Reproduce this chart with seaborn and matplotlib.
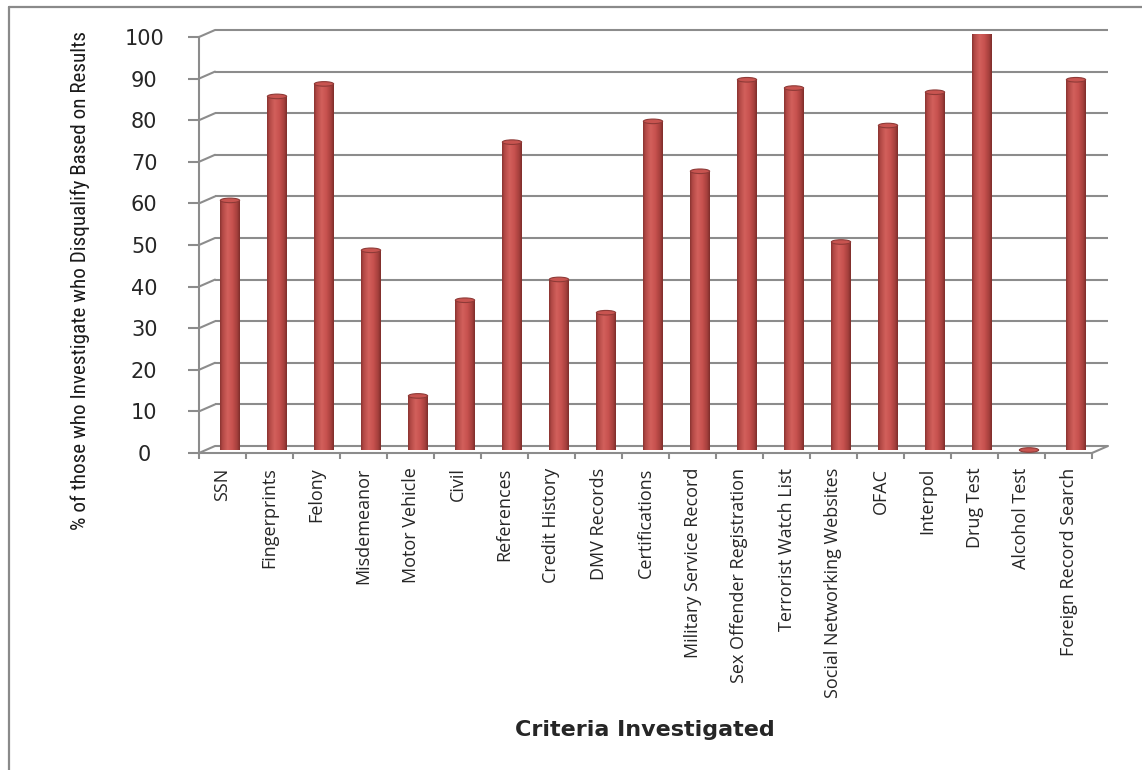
import numpy as np
import pandas as pd
import matplotlib
matplotlib.use("Agg")
import matplotlib.pyplot as plt
import seaborn as sns
from matplotlib import transforms, font_manager
from matplotlib.lines import Line2D
from matplotlib.patches import Ellipse
from matplotlib.colors import LinearSegmentedColormap

# ---- data -------------------------------------------------------------
categories = [
    "SSN", "Fingerprints", "Felony", "Misdemeanor", "Motor Vehicle", "Civil",
    "References", "Credit History", "DMV Records", "Certifications",
    "Military Service Record", "Sex Offender Registration",
    "Terrorist Watch List", "Social Networking Websites", "OFAC", "Interpol",
    "Drug Test", "Alcohol Test", "Foreign Record Search",
]
disqualify_pct = [60, 85, 88, 48, 13, 36, 74, 41, 33, 79, 67, 89, 87, 50, 78, 86, 100, 0, 89]
y_ticks = [0, 10, 20, 30, 40, 50, 60, 70, 80, 90, 100]

x_title = "Criteria Investigated"
y_title = "% of those who Investigate who Disqualify Based on Results"

# ---- style ------------------------------------------------------------
sns.set_theme(style="white")
available = {f.name for f in font_manager.fontManager.ttflist}
narrow_font = next((f for f in ["Liberation Sans Narrow", "Roboto Condensed",
                                "Open Sans Condensed", "Noto Sans Condensed"]
                    if f in available), "DejaVu Sans")
label_font = "Open Sans" if "Open Sans" in available else "DejaVu Sans"
plt.rcParams["font.family"] = ["DejaVu Sans"]

GRID = "#8C8C8C"
TEXT = "#262626"
BAR = "#C0504D"

W, H = 1142, 770
fig = plt.figure(figsize=(W / 100, H / 100), dpi=100)
fig.patch.set_facecolor("white")


def fx(px):
    return px / W


def fy(py):
    return 1 - py / H


# front plane of the chart box
ax = fig.add_axes([fx(199), fy(453), fx(1092) - fx(199), fy(37) - fy(453)])
ax.set_facecolor("none")

df = pd.DataFrame({"criteria": categories, "pct": disqualify_pct})
sns.barplot(data=df, x="criteria", y="pct", color=BAR, width=0.41,
            saturation=1, ax=ax, zorder=3, linewidth=0)

n = len(categories)

# depth offsets: back wall and bar (mid-depth) positions
back = ax.transData + transforms.ScaledTranslation(0.16, 0.07, fig.dpi_scale_trans)
mid = ax.transData + transforms.ScaledTranslation(0.075, 0.03, fig.dpi_scale_trans)

# cylinder shading across each bar
cyl = LinearSegmentedColormap.from_list(
    "cyl", [(0.0, "#8A3431"), (0.12, "#B24845"), (0.38, "#D2605C"),
            (0.62, "#C8524F"), (0.86, "#A6403D"), (1.0, "#7E2E2B")])
grad = np.linspace(0, 1, 64).reshape(1, -1)

for p in list(ax.patches):
    x0, w, h = p.get_x(), p.get_width(), p.get_height()
    p.set_transform(mid)
    if h > 0:
        im = ax.imshow(grad, extent=[x0, x0 + w, 0, h], aspect="auto",
                       cmap=cyl, transform=mid, zorder=3.5, interpolation="bilinear")
        im.set_clip_path(p)
    top = Ellipse((x0 + w / 2, h), width=w, height=1.1, facecolor="#C85450",
                  edgecolor="#8E3A37", lw=0.8, transform=mid, zorder=4)
    ax.add_patch(top)

ax.set_xlim(-0.5, n - 0.5)
ax.set_ylim(0, 100)
ax.grid(False)

# back-wall gridlines
for v in y_ticks:
    ax.plot([-0.5, n - 0.5], [v, v], color=GRID, lw=1.5, transform=back,
            clip_on=False, zorder=1, solid_capstyle="butt")

# depth edges joining front axis to back wall
to_fig = fig.transFigure.inverted()
edges = [(-0.5, v) for v in y_ticks] + [(n - 0.5, 0)]
for pt in edges:
    a = to_fig.transform(ax.transData.transform(pt))
    b = to_fig.transform(back.transform(pt))
    fig.add_artist(Line2D([a[0], b[0]], [a[1], b[1]], color=GRID, lw=1.5, zorder=1))

# front axes
for side in ("top", "right"):
    ax.spines[side].set_visible(False)
for side in ("left", "bottom"):
    ax.spines[side].set_color(GRID)
    ax.spines[side].set_linewidth(1.5)

ax.set_yticks(y_ticks)
ax.set_yticklabels([str(v) for v in y_ticks])
ax.tick_params(axis="y", direction="out", length=8, width=1.5, color=GRID,
               pad=31.5, labelsize=15, labelcolor=TEXT, left=True)
for lab in ax.get_yticklabels():
    lab.set_horizontalalignment("center")

ax.set_xticks(np.arange(n))
ax.set_xticklabels(categories, rotation=90, fontsize=13, family=label_font,
                   color=TEXT, va="top", ha="center")
ax.set_xticks(np.arange(n + 1) - 0.5, minor=True)
ax.tick_params(axis="x", which="major", length=0, pad=10.5, bottom=True)
ax.tick_params(axis="x", which="minor", direction="out", length=4.5, width=1.5,
               color=GRID, bottom=True)

ax.set_xlabel(x_title, fontsize=16, fontweight="bold", color=TEXT, va="center")
ax.xaxis.set_label_coords((645 - 199) / 893, (453 - 730) / 416)

ylab = ax.set_ylabel(y_title, fontsize=15, family=narrow_font, fontstretch="condensed",
                     color="#1A1A1A", va="center")
ax.yaxis.set_label_coords((80 - 199) / 893, (453 - 280) / 416)

# fit the axis title to the height it spans beside the value axis
renderer = fig.canvas.get_renderer()
span = ylab.get_window_extent(renderer).height
target = 500.0
ylab.set_fontsize(15 * target / span)

# chart area frame
fig.add_artist(Line2D([fx(9), fx(9)], [fy(7), 0], color="#8A8A8A", lw=1.6))
fig.add_artist(Line2D([fx(9), 1], [fy(7), fy(7)], color="#8A8A8A", lw=1.6))

fig.savefig("out.png", dpi=100, facecolor="white")
